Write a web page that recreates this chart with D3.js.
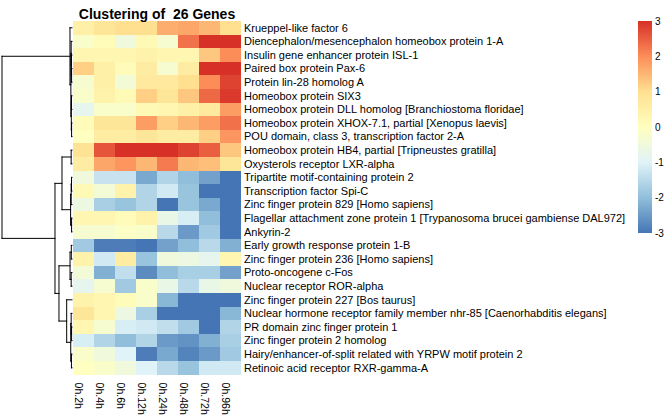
<!DOCTYPE html>
<html>
<head>
<meta charset="utf-8">
<script src="https://cdn.jsdelivr.net/npm/d3@7"></script>
<style>
  html, body { margin: 0; padding: 0; background: #ffffff; }
  svg { display: block; font-family: "Liberation Sans", Arial, Helvetica, sans-serif; }
</style>
</head>
<body>
<svg id="chart" width="668" height="418"></svg>
<script>
// ---------------- data ----------------
const title = "Clustering of  26 Genes";

const columns = ["0h.2h", "0h.4h", "0h.6h", "0h.12h", "0h.24h", "0h.48h", "0h.72h", "0h.96h"];

const genes = [
  "Krueppel-like factor 6",
  "Diencephalon/mesencephalon homeobox protein 1-A",
  "Insulin gene enhancer protein ISL-1",
  "Paired box protein Pax-6",
  "Protein lin-28 homolog A",
  "Homeobox protein SIX3",
  "Homeobox protein DLL homolog [Branchiostoma floridae]",
  "Homeobox protein XHOX-7.1, partial [Xenopus laevis]",
  "POU domain, class 3, transcription factor 2-A",
  "Homeobox protein HB4, partial [Tripneustes gratilla]",
  "Oxysterols receptor LXR-alpha",
  "Tripartite motif-containing protein 2",
  "Transcription factor Spi-C",
  "Zinc finger protein 829 [Homo sapiens]",
  "Flagellar attachment zone protein 1 [Trypanosoma brucei gambiense DAL972]",
  "Ankyrin-2",
  "Early growth response protein 1-B",
  "Zinc finger protein 236 [Homo sapiens]",
  "Proto-oncogene c-Fos",
  "Nuclear receptor ROR-alpha",
  "Zinc finger protein 227 [Bos taurus]",
  "Nuclear hormone receptor family member nhr-85 [Caenorhabditis elegans]",
  "PR domain zinc finger protein 1",
  "Zinc finger protein 2 homolog",
  "Hairy/enhancer-of-split related with YRPW motif protein 2",
  "Retinoic acid receptor RXR-gamma-A"
];

// row-scaled expression (z-scores), one row per gene, one value per column
const zscores = [
  [ 0.5,  0.8,  1.0,  1.0,  1.6,  1.7,  1.5,  1.0],
  [-0.2,  0.1, -0.5,  0.2, -0.3,  2.3,  3.0,  3.0],
  [ 0.3,  0.3,  0.3,  0.4,  0.3,  0.3,  1.3,  2.0],
  [ 1.2,  0.5,  0.1,  0.6, -0.3,  0.6,  3.0,  3.0],
  [-0.3,  0.5, -0.4,  0.7,  0.7,  1.0,  2.0,  2.8],
  [-0.2,  0.4,  0.2,  1.2,  0.8,  1.3,  2.4,  2.9],
  [-0.8, -0.2, -0.2,  0.2,  0.3,  0.5,  0.7,  1.8],
  [ 0.1,  0.8,  0.8,  1.8,  1.2,  1.5,  1.8,  2.3],
  [ 0.0,  0.6,  0.6,  0.8,  0.6,  0.6,  1.2,  1.9],
  [ 0.9,  2.6,  3.0,  3.0,  3.0,  2.8,  2.5,  1.3],
  [ 0.6,  1.7,  1.9,  1.5,  2.2,  1.5,  1.4,  0.8],
  [-0.5, -1.3, -1.3, -2.3, -1.6, -2.0, -2.4, -3.0],
  [ 0.2, -0.4,  0.4, -1.6, -1.2, -1.9, -3.0, -3.0],
  [-0.6, -1.7, -1.9, -1.6, -3.0, -1.9, -2.3, -3.0],
  [ 0.3,  0.3,  0.1,  0.4, -0.7, -1.1, -2.0, -3.0],
  [-0.3, -0.3, -0.1, -0.2, -1.5, -2.5, -1.8, -3.0],
  [-1.8, -2.9, -2.9, -3.0, -2.4, -2.0, -1.5, -2.2],
  [ 0.4, -1.2,  0.6, -1.9, -0.5, -0.6, -0.8,  0.3],
  [-0.4, -2.2, -1.4, -2.7, -2.0, -1.7, -1.7, -2.4],
  [-0.8, -0.3, -1.8, -0.2, -0.7, -1.5, -0.7, -0.5],
  [ 0.4,  0.3,  0.1, -0.2, -2.1, -3.0, -3.0, -3.0],
  [ 0.8,  0.3, -0.6, -1.7, -3.0, -3.0, -3.0, -2.1],
  [ 0.3, -0.3, -1.1, -1.2, -1.4, -1.8, -3.0, -1.6],
  [-1.1, -1.6, -2.0, -1.6, -2.5, -2.6, -2.2, -1.7],
  [-0.2, -0.5, -1.0, -2.9, -2.3, -2.8, -2.5, -1.8],
  [ 0.0, -0.2, -0.5, -1.0, -1.5, -1.9, -1.2, -1.2]
];

// hclust-style merges: negative = leaf (-(row index + 1)), positive = earlier merge (1-based)
const mergeLeft   = [-4, -3, -2, -6, -8, 4, 3, -1, -10, -12, 10, -15, 11, 9, -17, -19, 15, -23, -22, -25, 19, -21, 17, 14, 8];
const mergeRight  = [-5,  1,  2, -7, -9, 5, 6,  7, -11, -13, -14, -16, 12, 13, -18, -20, 16, -24, 18, -26, 20, 21, 22, 23, 24];
const mergeHeight = [0.06, 0.09, 0.12, 0.07, 0.06, 0.10, 0.16, 0.29, 0.12, 0.07, 0.12, 0.06, 0.20, 1.43, 0.10, 0.12, 0.28, 0.06, 0.12, 0.08, 0.18, 0.76, 1.86, 2.43, 10.0];

const legendTicks = [3, 2, 1, 0, -1, -2, -3];
const paletteStops = [-3, -2, -1, 0, 1, 2, 3];
const paletteColors = ["#4575B4", "#91BFDB", "#E0F3F8", "#FFFFBF", "#FEE090", "#FC8D59", "#D73027"];

// ---------------- drawing ----------------
const svg = d3.select("#chart");

const hmLeft = 73, hmRight = 241, hmTop = 21, hmBottom = 374.6;

const x = d3.scaleBand().domain(columns).range([hmLeft, hmRight]);
const y = d3.scaleBand().domain(genes).range([hmTop, hmBottom]);
const color = d3.scaleLinear().domain(paletteStops).range(paletteColors).clamp(true);

// heatmap cells
const cells = [];
zscores.forEach((row, i) => row.forEach((v, j) => cells.push({ gene: genes[i], col: columns[j], v })));
svg.append("g").selectAll("rect")
  .data(cells)
  .join("rect")
  .attr("x", d => x(d.col))
  .attr("y", d => y(d.gene))
  .attr("width", x.bandwidth() + 0.3)
  .attr("height", y.bandwidth() + 0.3)
  .attr("fill", d => color(d.v))
  .attr("shape-rendering", "crispEdges");

// title
svg.append("text")
  .attr("x", (hmLeft + hmRight) / 2)
  .attr("y", 18.5)
  .attr("text-anchor", "middle")
  .attr("font-size", 14)
  .attr("font-weight", "bold")
  .attr("fill", "#000")
  .style("white-space", "pre")
  .text(title);

// row labels
svg.append("g").selectAll("text")
  .data(genes)
  .join("text")
  .attr("x", hmRight + 3)
  .attr("y", d => y(d) + y.bandwidth() / 2)
  .attr("dy", "0.35em")
  .attr("font-size", 11)
  .attr("fill", "#000")
  .text(d => d);

// column labels (rotated)
svg.append("g").selectAll("text")
  .data(columns)
  .join("text")
  .attr("transform", d => `translate(${x(d) + x.bandwidth() / 2 - 5},${hmBottom + 8}) rotate(90)`)
  .attr("dy", "0.35em")
  .attr("font-size", 10.5)
  .attr("fill", "#000")
  .text(d => d);

// dendrogram
const dendX = d3.scaleLinear().domain([0, d3.max(mergeHeight)]).range([hmLeft - 1, 2]);
const nodes = []; // 1-based merges
function leafY(idx) { return y(genes[idx]) + y.bandwidth() / 2; }
function posOf(ref) {
  if (ref < 0) return { y: leafY(-ref - 1), h: 0 };
  return nodes[ref - 1];
}
const segs = [];
mergeLeft.forEach((l, k) => {
  const a = posOf(l), b = posOf(mergeRight[k]);
  const h = mergeHeight[k];
  const node = { y: (a.y + b.y) / 2, h };
  nodes.push(node);
  segs.push([dendX(h), a.y, dendX(h), b.y]);
  segs.push([dendX(h), a.y, dendX(a.h), a.y]);
  segs.push([dendX(h), b.y, dendX(b.h), b.y]);
});
svg.append("g").selectAll("line")
  .data(segs)
  .join("line")
  .attr("x1", d => d[0]).attr("y1", d => d[1])
  .attr("x2", d => d[2]).attr("y2", d => d[3])
  .attr("stroke", "#000")
  .attr("stroke-width", 1)
  .attr("stroke-linecap", "square");

// legend
const legTop = 21, legBottom = 233, legX = 638, legW = 14;
const legY = d3.scaleLinear().domain([3, -3]).range([legTop, legBottom]);
const defs = svg.append("defs");
const grad = defs.append("linearGradient")
  .attr("id", "legGrad").attr("x1", 0).attr("x2", 0).attr("y1", 1).attr("y2", 0);
grad.selectAll("stop")
  .data(paletteStops)
  .join("stop")
  .attr("offset", d => (d + 3) / 6)
  .attr("stop-color", d => color(d));
svg.append("rect")
  .attr("x", legX)
  .attr("y", legY(3))
  .attr("width", legW)
  .attr("height", legY(-3) - legY(3))
  .attr("fill", "url(#legGrad)");
svg.append("g").selectAll("text")
  .data(legendTicks)
  .join("text")
  .attr("x", legX + legW + 3)
  .attr("y", d => legY(d))
  .attr("dy", "0.35em")
  .attr("font-size", 10)
  .attr("fill", "#000")
  .text(d => d);
</script>
</body>
</html>
